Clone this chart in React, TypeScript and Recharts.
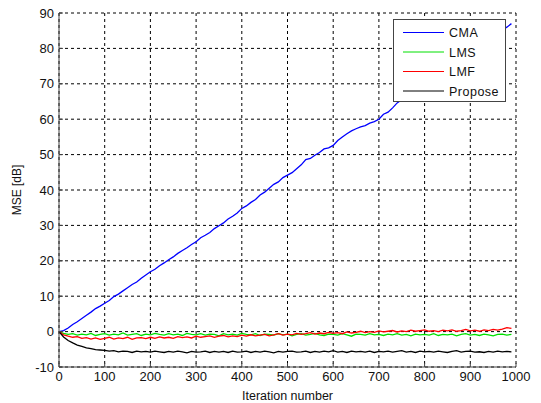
import React from 'react';
import { LineChart, Line, XAxis, YAxis, CartesianGrid } from 'recharts';

const iterations = Array.from({ length: 100 }, (_, k) => k * 10);

const cma = [0, 0.3, 1.0, 2.0, 2.8, 3.7, 4.6, 5.5, 6.5, 7.2, 8.0, 8.8, 9.9, 10.6, 11.5, 12.4, 13.3, 14.0, 15.1, 16.0, 16.9, 17.6, 18.6, 19.4, 20.3, 21.1, 22.1, 22.9, 23.7, 24.6, 25.4, 26.5, 27.2, 28.0, 29.1, 29.9, 30.7, 31.8, 32.6, 33.5, 34.8, 35.5, 36.5, 37.3, 38.6, 39.4, 40.5, 41.6, 42.3, 43.5, 44.2, 44.9, 46.0, 47.1, 48.6, 48.9, 49.8, 50.6, 51.6, 51.9, 52.6, 54.0, 55.0, 55.9, 56.7, 57.3, 57.8, 58.2, 58.9, 59.3, 60.0, 61.4, 62.0, 63.2, 64.6, 65.5, 66.4, 67.3, 68.2, 69.1, 70.0, 70.9, 71.8, 72.7, 73.6, 74.5, 75.5, 76.4, 77.3, 78.2, 79.0, 79.9, 80.8, 81.7, 82.6, 83.5, 84.3, 85.2, 86.0, 87.0];

const lms = [0, -0.5, -0.8, -0.6, -1.0, -0.7, -0.9, -0.5, -1.1, -0.8, -0.6, -1.0, -0.7, -0.9, -0.4, -1.0, -0.8, -0.6, -1.1, -0.7, -0.9, -0.5, -0.8, -1.0, -0.6, -0.9, -0.7, -1.1, -0.5, -0.8, -0.9, -0.6, -1.0, -0.7, -0.8, -1.2, -0.6, -0.9, -0.7, -1.0, -0.5, -0.8, -0.9, -0.6, -1.1, -0.7, -0.8, -1.0, -0.6, -0.9, -0.7, -1.2, -0.8, -0.6, -1.0, -0.8, -0.5, -0.9, -1.1, -0.7, -0.8, -1.0, -0.6, -0.9, -1.3, -0.7, -0.8, -1.0, -0.6, -0.9, -0.8, -1.1, -0.7, -0.9, -0.6, -1.0, -0.8, -1.2, -0.7, -0.9, -0.8, -1.0, -0.6, -1.1, -0.8, -0.9, -0.7, -1.2, -0.8, -0.6, -1.0, -0.8, -1.1, -0.7, -0.9, -1.2, -0.8, -0.7, -1.0, -0.8];

const lmf = [0, -0.9, -1.3, -1.6, -1.4, -1.9, -1.7, -2.1, -1.8, -2.2, -1.9, -1.6, -2.1, -1.8, -2.0, -1.6, -2.2, -1.8, -1.7, -2.0, -1.6, -1.9, -1.5, -1.8, -1.6, -1.9, -1.4, -1.7, -1.5, -1.8, -1.3, -1.6, -1.4, -1.2, -1.6, -1.3, -1.1, -1.5, -1.2, -1.4, -1.0, -1.3, -0.9, -1.2, -1.0, -0.8, -1.2, -0.9, -0.6, -1.0, -0.7, -0.9, -0.5, -0.8, -0.6, -0.3, -0.7, -0.4, -0.6, -0.2, -0.5, -0.3, -0.6, -0.1, -0.4, -0.2, 0.1, -0.3, 0.0, -0.2, 0.2, -0.1, 0.1, 0.3, -0.1, 0.2, 0.0, 0.4, 0.1, 0.3, 0.5, 0.1, 0.3, 0.0, 0.4, 0.2, 0.5, 0.1, 0.3, 0.6, 0.2, 0.4, 0.1, 0.5, 0.3, 0.6, 0.4, 0.7, 1.1, 0.9];

const propose = [0, -1.5, -2.5, -3.2, -3.8, -4.2, -4.6, -4.8, -5.1, -5.2, -5.3, -5.5, -5.4, -5.7, -5.5, -5.6, -5.9, -5.5, -5.7, -5.6, -5.8, -5.5, -5.7, -5.9, -5.6, -5.8, -5.5, -5.7, -6.0, -5.6, -5.8, -5.7, -5.5, -5.9, -5.6, -5.8, -5.6, -5.9, -5.5, -5.8, -5.7, -5.5, -5.9, -5.6, -5.8, -5.5, -5.7, -6.0, -5.6, -5.8, -5.6, -5.5, -5.8, -5.7, -5.5, -5.9, -5.6, -5.8, -5.5, -5.7, -5.4, -5.8, -5.6, -5.9, -5.5, -5.7, -5.6, -5.8, -5.5, -5.9, -5.6, -5.7, -5.5, -5.8, -5.6, -5.4, -5.8, -5.6, -5.9, -5.5, -5.7, -5.6, -5.8, -5.5, -5.7, -5.9, -5.6, -5.4, -5.8, -5.6, -5.5, -5.8, -5.7, -5.9, -5.6, -5.8, -5.5, -5.7, -5.6, -5.7];

const xTicks = [0, 100, 200, 300, 400, 500, 600, 700, 800, 900, 1000];
const yTicks = [-10, 0, 10, 20, 30, 40, 50, 60, 70, 80, 90];

const seriesNames = ['CMA', 'LMS', 'LMF', 'Propose'];
const seriesKeys = ['cma', 'lms', 'lmf', 'propose'];
const seriesColors = ['#0000ff', '#00e000', '#ff0000', '#000000'];

const data = iterations.map((it, i) => ({
  it,
  cma: cma[i],
  lms: lms[i],
  lmf: lmf[i],
  propose: propose[i],
}));

const FONT = '"Liberation Sans", Arial, sans-serif';

function LegendBox() {
  return (
    <div
      style={{
        position: 'absolute',
        left: 393,
        top: 19,
        width: 111,
        height: 81,
        border: '1px solid #444',
        background: '#fff',
      }}
    >
      <svg width={111} height={81} style={{ position: 'absolute', left: 0, top: 0 }}>
        {seriesNames.map((n, i) => {
          const y = 12.5 + i * 19.5;
          return (
            <g key={n}>
              <line x1={9} x2={50} y1={y} y2={y} stroke={seriesColors[i]} strokeWidth={1} />
              <text x={55} y={y + 4.5} fill="#111" fontSize={12.5} fontFamily={FONT} letterSpacing={0.5}>
                {n}
              </text>
            </g>
          );
        })}
      </svg>
    </div>
  );
}

export default function App() {
  return (
    <div style={{ position: 'absolute', left: 0, top: 0, width: 541, height: 403, background: '#fff' }}>
      <LineChart width={541} height={403} data={data} margin={{ top: 13, right: 25, bottom: 0, left: 0 }}>
        <CartesianGrid stroke="#000" strokeDasharray="3 3" strokeWidth={1} />
        <XAxis
          dataKey="it"
          type="number"
          domain={[0, 1000]}
          ticks={xTicks}
          height={36}
          axisLine={{ stroke: '#444' }}
          tickLine={{ stroke: '#444' }}
          tickSize={-4}
          tickMargin={9}
          tick={{ fill: '#111', fontSize: 13, fontFamily: FONT }}
          label={{ value: 'Iteration number', position: 'insideBottom', offset: 3, fill: '#111', fontSize: 12.5, fontFamily: FONT }}
        />
        <XAxis
          xAxisId="top"
          dataKey="it"
          type="number"
          orientation="top"
          domain={[0, 1000]}
          ticks={xTicks}
          height={0}
          axisLine={{ stroke: '#444' }}
          tickLine={{ stroke: '#444' }}
          tickSize={-4}
          tickFormatter={() => ''}
        />
        <YAxis
          type="number"
          domain={[-10, 90]}
          ticks={yTicks}
          width={59}
          axisLine={{ stroke: '#444' }}
          tickLine={{ stroke: '#444' }}
          tickSize={-4}
          tickMargin={9}
          tick={{ fill: '#111', fontSize: 13, fontFamily: FONT }}
          label={{ value: 'MSE [dB]', angle: -90, position: 'insideLeft', offset: 17, style: { textAnchor: 'middle' }, fill: '#111', fontSize: 12, fontFamily: FONT }}
        />
        <YAxis
          yAxisId="right"
          orientation="right"
          type="number"
          domain={[-10, 90]}
          ticks={yTicks}
          width={0}
          axisLine={{ stroke: '#444' }}
          tickLine={{ stroke: '#444' }}
          tickSize={-4}
          tickFormatter={() => ''}
        />
        {seriesKeys.map((k, i) => (
          <Line
            key={k}
            dataKey={k}
            name={seriesNames[i]}
            stroke={seriesColors[i]}
            strokeWidth={1.3}
            dot={false}
            isAnimationActive={false}
            type="linear"
          />
        ))}
      </LineChart>
      <LegendBox />
    </div>
  );
}
